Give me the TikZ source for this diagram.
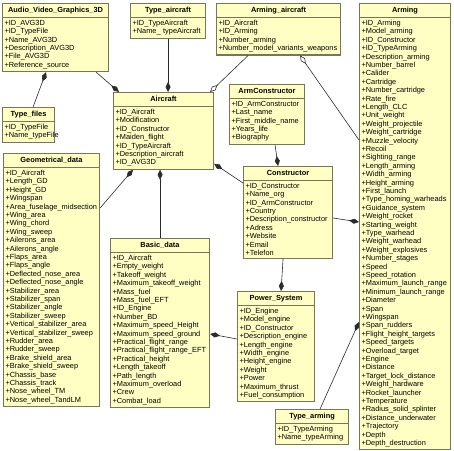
\documentclass[tikz,border=0pt]{standalone}
\usepackage{fontspec}
\setmainfont{Liberation Sans}
\usepackage{xcolor}
\usepackage{tikz}
\usetikzlibrary{shapes.multipart, arrows.meta, positioning}
\definecolor{classfill}{HTML}{FFFFC4}
\definecolor{classdraw}{HTML}{76765A}
\definecolor{link}{HTML}{2B2B2B}
\tikzset{
    umlclass/.style={rectangle split, rectangle split parts=2, draw=classdraw, fill=classfill,
                line width=1.1pt, anchor=north west, align=left,
                font=\fontsize{7.4}{8.4}\selectfont, inner xsep=2pt, inner ysep=2.2pt},
    comp/.style={{Diamond[length=10pt, width=5pt]}-, line width=0.6pt, color=link},
    aggr/.style={{Diamond[open, length=10pt, width=5pt]}-, line width=0.6pt, color=link},
}
\newcommand{\classname}[1]{\hbox to\hsize{\hfil\strut\textbf{#1}\hfil}}

\begin{document}
\begin{tikzpicture}[x=1pt, y=-1pt]
  \useasboundingbox (0,0) rectangle (454,450);

  % top row
  \node[umlclass, text width=102pt] (avg) at (2,3)
        {\classname{Audio\_Video\_Graphics\_3D}\nodepart{two}
         +ID\_AVG3D\\+ID\_TypeFile\\+Name\_AVG3D\\+Description\_AVG3D\\+File\_AVG3D\\+Reference\_source};

  \node[umlclass, text width=71pt] (typeaircraft) at (130,3)
        {\classname{Type\_aircraft}\nodepart{two}
         +ID\_TypeAircraft\\+Name\_ typeAircraft};

  \node[umlclass, text width=120pt] (armingaircraft) at (216,3)
        {\classname{Arming\_aircraft}\nodepart{two}
         +ID\_Aircraft\\+ID\_Arming\\+Number\_arming\\+Number\_model\_variants\_weapons};

  \node[umlclass, text width=87pt] (arming) at (359,3)
        {\classname{Arming}\nodepart{two}
         +ID\_Arming\\+Model\_arming\\+ID\_Constructor\\+ID\_TypeArming\\+Description\_arming\\
         +Number\_barrel\\+Calider\\+Cartridge\\+Number\_cartridge\\+Rate\_fire\\+Length\_CLC\\
         +Unit\_weight\\+Weight\_projectile\\+Weight\_cartridge\\+Muzzle\_velocity\\+Recoil\\
         +Sighting\_range\\+Length\_arming\\+Width\_arming\\+Height\_arming\\+First\_launch\\
         +Type\_homing\_warheads\\+Guidance\_system\\+Weight\_rocket\\+Starting\_weight\\
         +Type\_warhead\\+Weight\_warhead\\+Weight\_explosives\\+Number\_stages\\+Speed\\
         +Speed\_rotation\\+Maximum\_launch\_range\\+Minimum\_launch\_range\\+Diameter\\+Span\\
         +Wingspan\\+Span\_rudders\\+Flight\_height\_targets\\+Speed\_targets\\+Overload\_target\\
         +Engine\\+Distance\\+Target\_lock\_distance\\+Weight\_hardware\\+Rocket\_launcher\\
         +Temperature\\+Radius\_solid\_splinter\\+Distance\_underwater\\+Trajectory\\+Depth\\
         +Depth\_destruction};

  % left column
  \node[umlclass, text width=48pt] (typefiles) at (2,107)
        {\classname{Type\_files}\nodepart{two}
         +ID\_TypeFile\\+Name\_typeFile};

  \node[umlclass, text width=92pt] (geo) at (3,153)
        {\classname{Geometrical\_data}\nodepart{two}
         +ID\_Aircraft\\+Length\_GD\\+Height\_GD\\+Wingspan\\+Area\_fuselage\_midsection\\
         +Wing\_area\\+Wing\_chord\\+Wing\_sweep\\+Ailerons\_area\\+Ailerons\_angle\\+Flaps\_area\\
         +Flaps\_angle\\+Deflected\_nose\_area\\+Deflected\_nose\_angle\\+Stabilizer\_area\\
         +Stabilizer\_span\\+Stabilizer\_angle\\+Stabilizer\_sweep\\+Vertical\_stabilizer\_area\\
         +Vertical\_stabilizer\_sweep\\+Rudder\_area\\+Rudder\_sweep\\+Brake\_shield\_area\\
         +Brake\_shield\_sweep\\+Chassis\_base\\+Chassis\_track\\+Nose\_wheel\_TM\\
         +Nose\_wheel\_TandLM};

  % middle
  \node[umlclass, text width=96pt] (aircraft) at (113,92)
        {\classname{Aircraft}\nodepart{two}
         +ID\_Aircraft\\+Modification\\+ID\_Constructor\\+Maiden\_flight\\+ID\_TypeAircraft\\
         +Description\_aircraft\\+ID\_AVG3D};

  \node[umlclass, text width=95pt] (basic) at (110,238)
        {\classname{Basic\_data}\nodepart{two}
         +ID\_Aircraft\\+Empty\_weight\\+Takeoff\_weight\\+Maximum\_takeoff\_weight\\+Mass\_fuel\\
         +Mass\_fuel\_EFT\\+ID\_Engine\\+Number\_BD\\+Maximum\_speed\_Height\\
         +Maximum\_speed\_ground\\+Practical\_flight\_range\\+Practical\_flight\_range\_EFT\\
         +Practical\_height\\+Length\_takeoff\\+Path\_length\\+Maximum\_overload\\+Crew\\
         +Combat\_load};

  \node[umlclass, text width=71pt] (armconstr) at (229,84)
        {\classname{ArmConstructor}\nodepart{two}
         +ID\_ArmConstructor\\+Last\_name\\+First\_middle\_name\\+Years\_life\\+Biography};

  \node[umlclass, text width=85pt] (constructor) at (243,166)
        {\classname{Constructor}\nodepart{two}
         +ID\_Constructor\\+Name\_org\\+ID\_ArmConstructor\\+Country\\+Description\_constructor\\
         +Adress\\+Website\\+Email\\+Telefon};

  \node[umlclass, text width=73pt] (power) at (237,291)
        {\classname{Power\_System}\nodepart{two}
         +ID\_Engine\\+Model\_engine\\+ID\_Constructor\\+Description\_engine\\+Length\_engine\\
         +Width\_engine\\+Height\_engine\\+Weight\\+Power\\+Maximum\_thrust\\+Fuel\_consumption};

  \node[umlclass, text width=69pt] (typearming) at (275,409)
        {\classname{Type\_arming}\nodepart{two}
         +ID\_TypeArming\\+Name\_typeArming};

  % associations
  \draw[comp] ([xshift=-9.5pt]avg.south) -- ([xshift=4.5pt]typefiles.north);
  \draw[comp] ([xshift=6pt]aircraft.north west) -- ([xshift=-13pt]avg.south east);
  \draw[comp] (aircraft.north -| typeaircraft.south) -- (typeaircraft.south);
  \draw[aggr] ([xshift=-4pt]aircraft.north east) -- ([xshift=32pt]armingaircraft.south west);
  \draw[aggr] ([xshift=-41pt]armingaircraft.south east) -- ([yshift=-137pt]arming.north west);
  \draw[comp] ([xshift=20pt]aircraft.south west) -- ([yshift=-55pt]geo.north east);
  \draw[comp] (aircraft.south -| basic.north) -- (basic.north);
  \draw[comp] ([yshift=6pt]aircraft.south east) -- ([yshift=-17pt]constructor.north west);
  \draw[comp] ([xshift=-10pt]constructor.north) -- ([xshift=8pt]armconstr.south);
  \draw[comp] ([xshift=5pt]power.north) -- ([xshift=-5pt]constructor.south);
  \draw[comp] ([yshift=-96pt]basic.north east) -- ([yshift=-48pt]power.north west);
  \draw[comp] ([yshift=-219pt]arming.north west) -- ([yshift=-52pt]constructor.north east);
  \draw[comp] ([yshift=-319pt]arming.north west) -- ([xshift=8pt]typearming.north);

\end{tikzpicture}
\end{document}
